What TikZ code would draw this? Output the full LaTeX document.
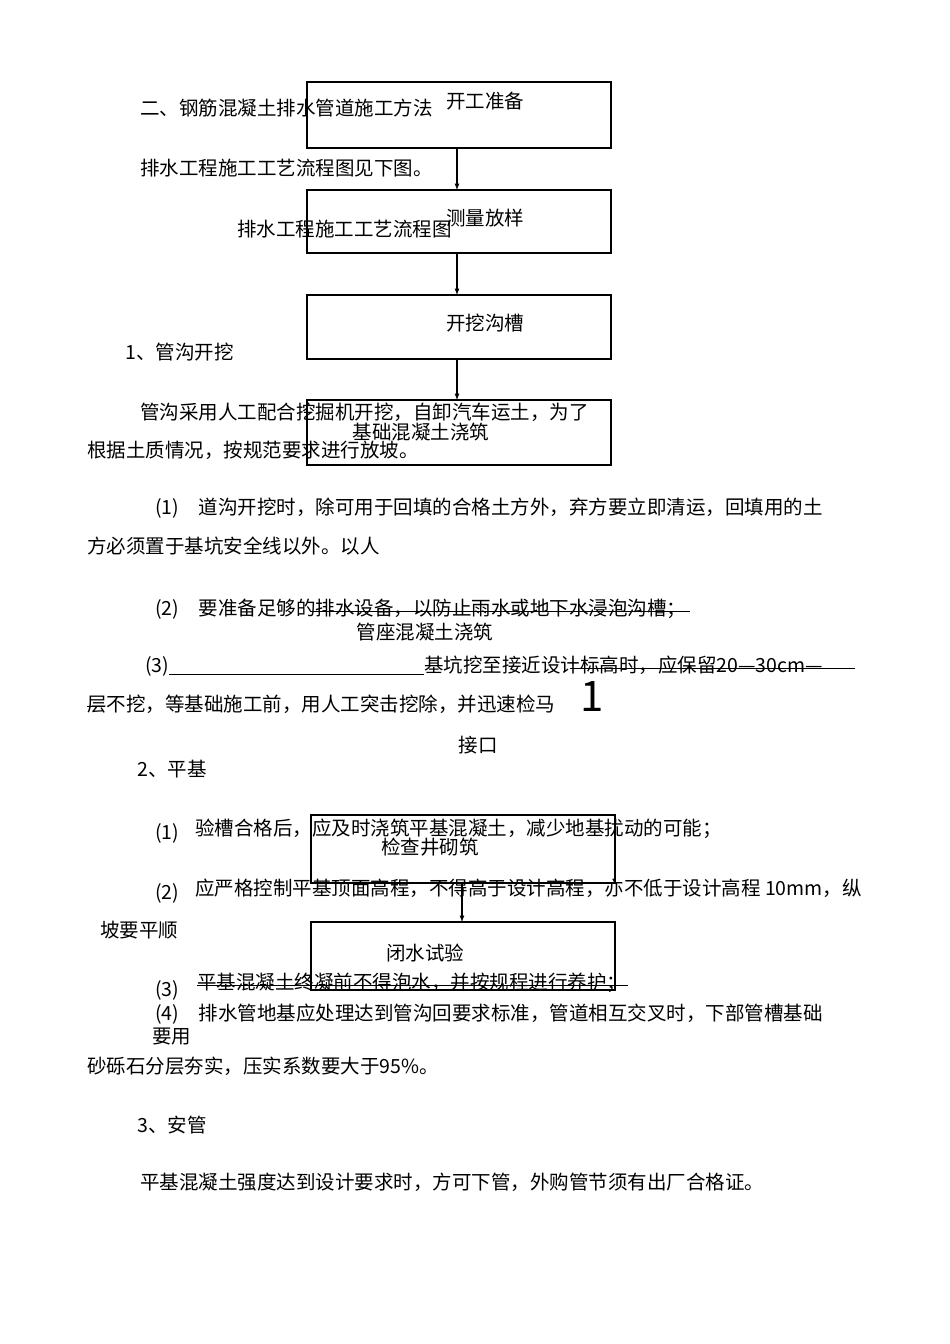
\documentclass[tikz,border=0pt]{standalone}
\usepackage{fontspec}
\setmainfont{Noto Sans CJK SC}
\begin{document}
\begin{tikzpicture}[x=1pt,y=-1pt,
  box/.style={draw,line width=1.2pt},
  arr/.style={-latex,line width=1.2pt},
  t/.style={anchor=west,inner sep=0pt,font=\fontsize{19.5}{21}\selectfont},
  c/.style={anchor=center,inner sep=0pt,font=\fontsize{19.5}{21}\selectfont}]
\useasboundingbox (0,0) rectangle (950,1344);
\fill[white] (0,0) rectangle (950,1344);
% boxes
\draw[box] (307,82) rectangle (611,148);
\draw[box] (307,190) rectangle (611,253);
\draw[box] (307,295) rectangle (611,359);
\draw[box] (307,400) rectangle (611,465);
\draw[box] (311,815) rectangle (615,883);
\draw[box] (311,922) rectangle (615,990);
\coordinate (a1) at (457,148); \coordinate (b1) at (457,190);
\coordinate (a2) at (457,253); \coordinate (b2) at (457,295);
\coordinate (a3) at (457,359); \coordinate (b3) at (457,400);
\coordinate (a4) at (462,883); \coordinate (b4) at (462,922);
\draw[arr] (a1)--(b1); \draw[arr] (a2)--(b2); \draw[arr] (a3)--(b3); \draw[arr] (a4)--(b4);
% box texts
\node[c] (k1) at (485,101) {开工准备};
\node[c] (k2) at (485,218) {测量放样};
\node[c] (k3) at (485,323) {开挖沟槽};
\node[c] (k4) at (421,432) {基础混凝土浇筑};
\node[c] (k5) at (430,847) {检查井砌筑};
\node[c] (k6) at (425,953) {闭水试验};
% body text
\node[t] (t1) at (140,108) {二、钢筋混凝土排水管道施工方法};
\node[t] (t2) at (140,168) {排水工程施工工艺流程图见下图。};
\node[t] (t3) at (237,229) {排水工程施工工艺流程图};
\node[t] (t4) at (125,352) {1、管沟开挖};
\node[t] (t5) at (140,412) {管沟采用人工配合挖掘机开挖，自卸汽车运土，为了};
\node[t] (t6) at (87,450) {根据土质情况，按规范要求进行放坡。};
\node[t] (t7) at (155,508) {(1)\quad 道沟开挖时，除可用于回填的合格土方外，弃方要立即清运，回填用的土};
\node[t] (t8) at (87,546) {方必须置于基坑安全线以外。以人};
\node[t] (t9) at (155,609) {(2)\quad 要准备足够的排水设备，以防止雨水或地下水浸泡沟槽；};
\draw (310,611)--(690,611);
\node[c] (t10) at (425,632) {管座混凝土浇筑};
\node[t] (t11) at (145,666) {(3)\rule[-2pt]{255pt}{0.6pt}基坑挖至接近设计标高时，应保留20—30cm—};
\draw (570,668)--(855,668);
\node[t] (t12) at (87,704) {层不挖，等基础施工前，用人工突击挖除，并迅速检马};
\draw (87,706)--(105,706);
\node[anchor=west,inner sep=0pt,font=\fontsize{42}{44}\selectfont] (t13) at (580,697) {1};
\node[c] (t14) at (478,745) {接口};
\node[t] (t15) at (137,769) {2、平基};
\node[t] (t16) at (155,833) {(1)};
\node[t] (t17) at (195,829) {验槽合格后，应及时浇筑平基混凝土，减少地基扰动的可能；};
\node[t] (t18) at (155,893) {(2)};
\node[t] (t19) at (195,888) {应严格控制平基顶面高程，不得高于设计高程，亦不低于设计高程 10mm，纵};
\node[t] (t20) at (100,930) {坡要平顺};
\node[t] (t21) at (155,990) {(3)};
\node[t] (t22) at (197,983) {平基混凝土终凝前不得泡水，并按规程进行养护；};
\draw (197,985)--(628,985);
\node[t] (t23) at (155,1014) {(4)\quad 排水管地基应处理达到管沟回要求标准，管道相互交叉时，下部管槽基础};
\node[t] (t24) at (152,1037) {要用};
\node[t] (t25) at (87,1066) {砂砾石分层夯实，压实系数要大于95\%。};
\node[t] (t26) at (137,1125) {3、安管};
\node[t] (t27) at (140,1182) {平基混凝土强度达到设计要求时，方可下管，外购管节须有出厂合格证。};
\end{tikzpicture}
\end{document}
